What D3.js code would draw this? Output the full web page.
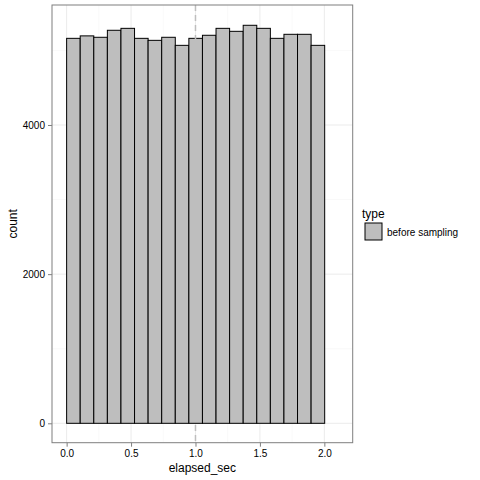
<!DOCTYPE html>
<html><head><meta charset="utf-8">
<script src="https://cdn.jsdelivr.net/npm/d3@7"></script>
<style>body{margin:0;background:#fff}</style></head>
<body><svg id="c" width="480" height="480"></svg>
<script>
// histogram bins (width ~0.1054), counts
var binWidth = 2.108 / 20;
var counts = [5162, 5195, 5176, 5270, 5296, 5162, 5135, 5176, 5068, 5162,
              5203, 5296, 5256, 5337, 5296, 5162, 5216, 5216, 5068, 0];
var xTicks = [0, 0.5, 1, 1.5, 2];
var yTicks = [0, 2000, 4000];
var vline = 1.0;

var svg = d3.select("#c");
var L = 52, R = 352.7, T = 5, B = 442.7;
var x = d3.scaleLinear().domain([-0.1135, 2.22]).range([L, R]);
var y = d3.scaleLinear().domain([-260, 5609]).range([B, T]);
var font = "Liberation Sans, Arial, sans-serif";

var g = svg.append("g");
// minor grid
var xMinor = [0.25, 0.75, 1.25, 1.75], yMinor = [1000, 3000, 5000];
g.selectAll(".xm").data(xMinor).enter().append("line")
  .attr("x1", d => x(d)).attr("x2", d => x(d)).attr("y1", T).attr("y2", B)
  .attr("stroke", "#f2f2f2").attr("stroke-width", 0.5);
g.selectAll(".ym").data(yMinor).enter().append("line")
  .attr("y1", d => y(d)).attr("y2", d => y(d)).attr("x1", L).attr("x2", R)
  .attr("stroke", "#f2f2f2").attr("stroke-width", 0.5);
g.selectAll(".xg").data(xTicks).enter().append("line")
  .attr("x1", d => x(d)).attr("x2", d => x(d)).attr("y1", T).attr("y2", B)
  .attr("stroke", "#ebebeb").attr("stroke-width", 1);
g.selectAll(".yg").data(yTicks).enter().append("line")
  .attr("y1", d => y(d)).attr("y2", d => y(d)).attr("x1", L).attr("x2", R)
  .attr("stroke", "#ebebeb").attr("stroke-width", 1);

// bars
g.selectAll("rect").data(counts).enter().append("rect")
  .attr("x", (d, i) => x(i * binWidth))
  .attr("width", x(binWidth) - x(0))
  .attr("y", d => y(d))
  .attr("height", d => y(0) - y(d))
  .attr("fill", "#bebebe").attr("stroke", "#000").attr("stroke-width", 1);

// dashed line
g.append("line").attr("x1", x(vline)).attr("x2", x(vline)).attr("y1", T).attr("y2", B)
  .attr("stroke", "#bebebe").attr("stroke-width", 1.5).attr("stroke-dasharray", "6,4");

// panel border
g.append("rect").attr("x", L).attr("y", T).attr("width", R - L).attr("height", B - T)
  .attr("fill", "none").attr("stroke", "#7f7f7f").attr("stroke-width", 1);

// axes
var xa = svg.append("g").attr("transform", "translate(0," + B + ")")
  .call(d3.axisBottom(x).tickValues(xTicks).tickFormat(d3.format(".1f")).tickSize(4).tickPadding(3));
var ya = svg.append("g").attr("transform", "translate(" + L + ",0)")
  .call(d3.axisLeft(y).tickValues(yTicks).tickFormat(d3.format("d")).tickSize(4).tickPadding(3));
[xa, ya].forEach(a => {
  a.select(".domain").remove();
  a.selectAll(".tick line").attr("stroke", "#7f7f7f");
  a.selectAll("text").attr("fill", "#000").attr("font-family", font).attr("font-size", 10);
});

svg.append("text").attr("x", (L + R) / 2).attr("y", 472).attr("text-anchor", "middle")
  .attr("font-family", font).attr("font-size", 12).text("elapsed_sec");
svg.append("text").attr("transform", "translate(17," + (T + B) / 2 + ") rotate(-90)")
  .attr("text-anchor", "middle").attr("font-family", font).attr("font-size", 12).text("count");

// legend
svg.append("text").attr("x", 362).attr("y", 218).attr("font-family", font)
  .attr("font-size", 12).text("type");
svg.append("rect").attr("x", 365).attr("y", 223).attr("width", 17).attr("height", 17)
  .attr("fill", "#bebebe").attr("stroke", "#000").attr("stroke-width", 1);
svg.append("text").attr("x", 387).attr("y", 235.5).attr("font-family", font)
  .attr("font-size", 10).text("before sampling");
</script></body></html>
